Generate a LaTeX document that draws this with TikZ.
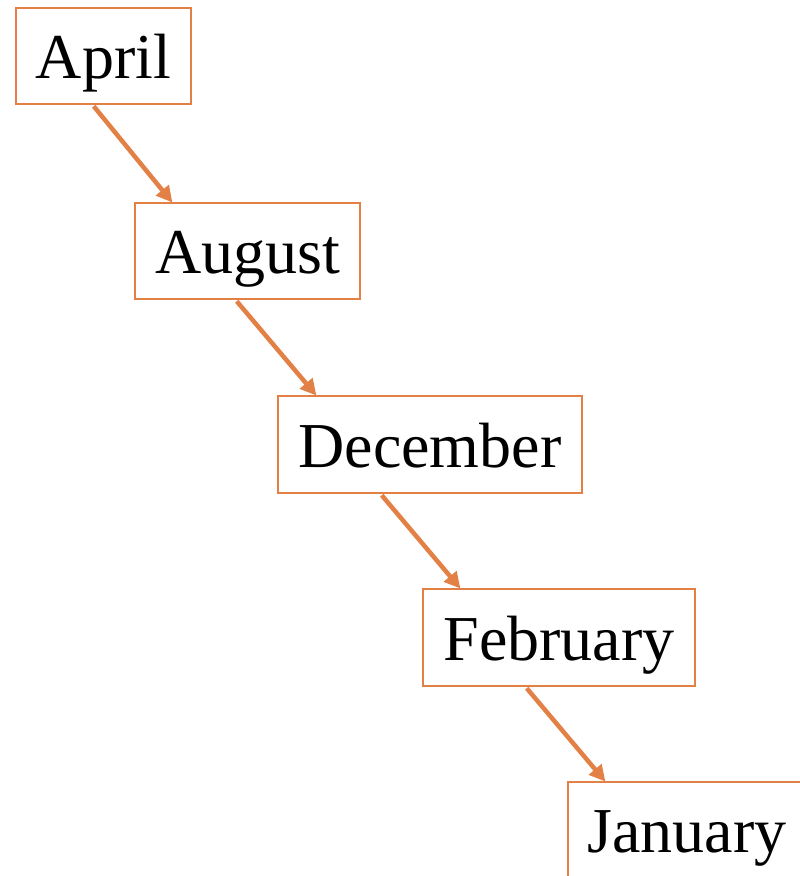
\documentclass[tikz,border=0pt]{standalone}
\usepackage{fontspec}
\setmainfont{Liberation Serif}
\usetikzlibrary{arrows.meta}
\definecolor{accent}{RGB}{226,128,70}
\begin{document}
\begin{tikzpicture}[x=1pt,y=-1pt,
  month/.style={draw=accent, line width=2.5pt, fill=white, inner sep=0pt,
    text height=45pt, text depth=0pt,
    font=\fontsize{64}{64}\selectfont},
  link/.style={draw=accent, line width=4.5pt,
    -{Triangle[length=16pt,width=16pt]}, shorten >=-1pt}]
  \useasboundingbox (0,0) rectangle (800,876);
  \begin{scope}
    \clip (0,0) rectangle (800,876);
    \node[month, minimum width=175pt, minimum height=96pt] (apr) at (103.5,56) {April};
    \node[month, minimum width=225pt, minimum height=96pt] (aug) at (247.5,251) {August};
    \node[month, minimum width=304pt, minimum height=97pt] (dec) at (430,444.5) {December};
    \node[month, minimum width=272pt, minimum height=97pt] (feb) at (559,637.5) {February};
    \node[month, minimum width=238pt, minimum height=96pt] (jan) at (687,830) {January};
    \draw[link] ([xshift=79pt,yshift=-1pt]apr.south west) -- ([xshift=38pt]aug.north west);
    \draw[link] ([xshift=103pt,yshift=-1pt]aug.south west) -- ([xshift=39pt]dec.north west);
    \draw[link] ([xshift=105pt,yshift=-1pt]dec.south west) -- ([xshift=38pt]feb.north west);
    \draw[link] ([xshift=105pt,yshift=-1pt]feb.south west) -- ([xshift=38pt]jan.north west);
  \end{scope}
\end{tikzpicture}
\end{document}
